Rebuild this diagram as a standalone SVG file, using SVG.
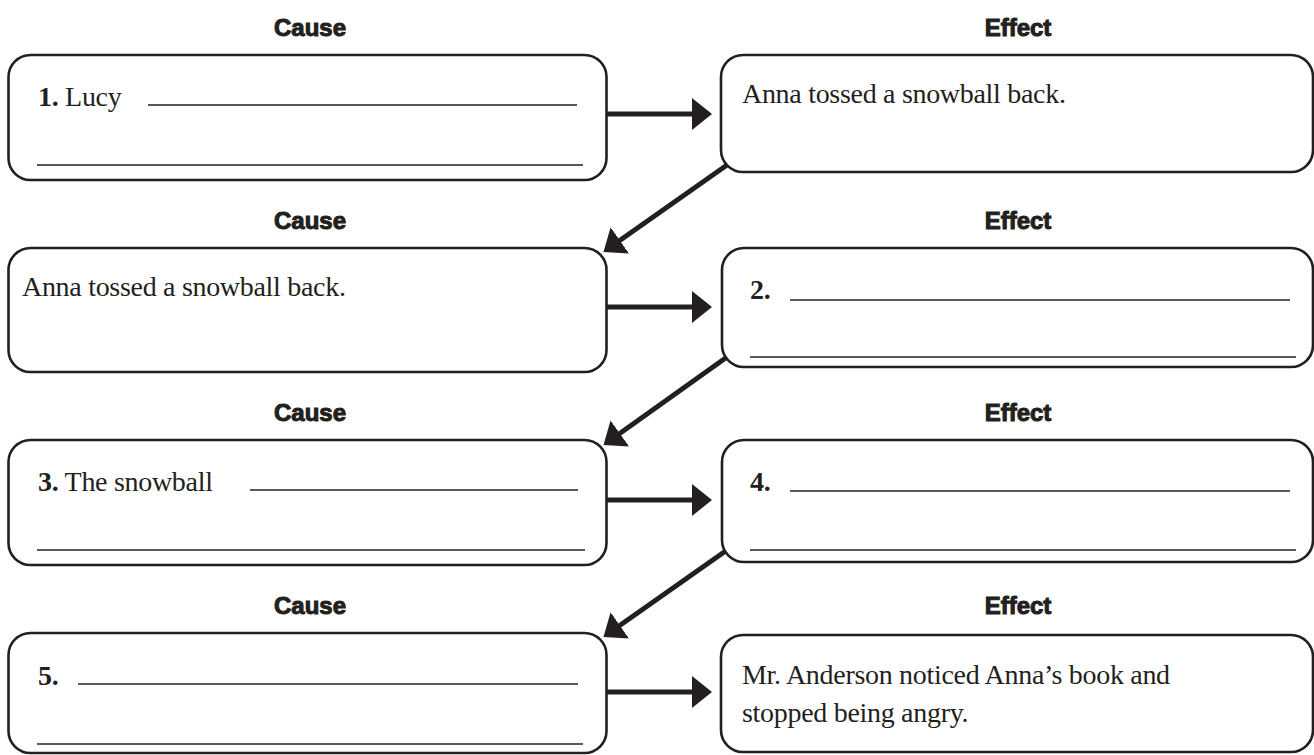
<svg xmlns="http://www.w3.org/2000/svg" width="1314" height="755" viewBox="0 0 1314 755">
<defs>
<style>
.box{fill:#fff;stroke:#231f20;stroke-width:2.6}
.hd{font-family:"Liberation Sans",Arial,sans-serif;font-weight:bold;font-size:24px;fill:#231f20;stroke:#231f20;stroke-width:1;text-anchor:middle}
.tx{font-family:"Liberation Serif","Times New Roman",serif;font-size:28px;letter-spacing:-0.3px;fill:#231f20}
.num{font-weight:bold}
.blank{stroke:#58595b;stroke-width:2}
.arr{stroke:#231f20;stroke-width:5;fill:none;marker-end:url(#ah)}
</style>
<marker id="ah" viewBox="0 0 20 32" refX="1" refY="16" markerWidth="20" markerHeight="32" markerUnits="userSpaceOnUse" orient="auto">
<path d="M0,0 L20,16 L0,32 z" fill="#231f20"/>
</marker>
</defs>
<rect width="1314" height="755" fill="#fff"/>

<g id="headers">
<text class="hd" x="310" y="36">Cause</text>
<text class="hd" x="1018" y="36">Effect</text>
<text class="hd" x="310" y="229">Cause</text>
<text class="hd" x="1018" y="229">Effect</text>
<text class="hd" x="310" y="421">Cause</text>
<text class="hd" x="1018" y="421">Effect</text>
<text class="hd" x="310" y="614">Cause</text>
<text class="hd" x="1018" y="614">Effect</text>
</g>

<g id="connectors">
<line class="arr" x1="606" y1="114" x2="693" y2="114"/>
<line class="arr" x1="606" y1="307" x2="693" y2="307"/>
<line class="arr" x1="606" y1="500" x2="693" y2="500"/>
<line class="arr" x1="606" y1="692" x2="693" y2="692"/>
<line class="arr" x1="727" y1="165" x2="619" y2="241"/>
<line class="arr" x1="727" y1="357" x2="619" y2="434"/>
<line class="arr" x1="727" y1="550" x2="619" y2="626"/>
</g>

<g id="cause1">
<rect class="box" x="8.5" y="55" width="598" height="125" rx="22"/>
<text class="tx" x="38" y="106"><tspan class="num">1.</tspan> Lucy</text>
<line class="blank" x1="148" y1="105" x2="577" y2="105"/>
<line class="blank" x1="37" y1="165" x2="583" y2="165"/>
</g>

<g id="effect1">
<rect class="box" x="721" y="55" width="592" height="117" rx="22"/>
<text class="tx" x="742" y="103">Anna tossed a snowball back.</text>
</g>

<g id="cause2">
<rect class="box" x="8.5" y="248" width="598" height="124" rx="22"/>
<text class="tx" x="22" y="296">Anna tossed a snowball back.</text>
</g>

<g id="effect2">
<rect class="box" x="722" y="248" width="591" height="119" rx="22"/>
<text class="tx num" x="750" y="299">2.</text>
<line class="blank" x1="790" y1="300" x2="1290" y2="300"/>
<line class="blank" x1="750" y1="357" x2="1296" y2="357"/>
</g>

<g id="cause3">
<rect class="box" x="8.5" y="440" width="598" height="125" rx="22"/>
<text class="tx" x="38" y="491"><tspan class="num">3.</tspan> The snowball</text>
<line class="blank" x1="250" y1="490" x2="578" y2="490"/>
<line class="blank" x1="37" y1="550" x2="585" y2="550"/>
</g>

<g id="effect3">
<rect class="box" x="722" y="440" width="591" height="122" rx="22"/>
<text class="tx num" x="750" y="491">4.</text>
<line class="blank" x1="790" y1="491" x2="1290" y2="491"/>
<line class="blank" x1="750" y1="550" x2="1296" y2="550"/>
</g>

<g id="cause4">
<rect class="box" x="8.5" y="633" width="598" height="120" rx="22"/>
<text class="tx num" x="38" y="685">5.</text>
<line class="blank" x1="78" y1="684" x2="578" y2="684"/>
<line class="blank" x1="37" y1="744" x2="583" y2="744"/>
</g>

<g id="effect4">
<rect class="box" x="721" y="635" width="592" height="117" rx="22"/>
<text class="tx" x="742" y="684">Mr. Anderson noticed Anna’s book and</text>
<text class="tx" x="742" y="722">stopped being angry.</text>
</g>
</svg>
